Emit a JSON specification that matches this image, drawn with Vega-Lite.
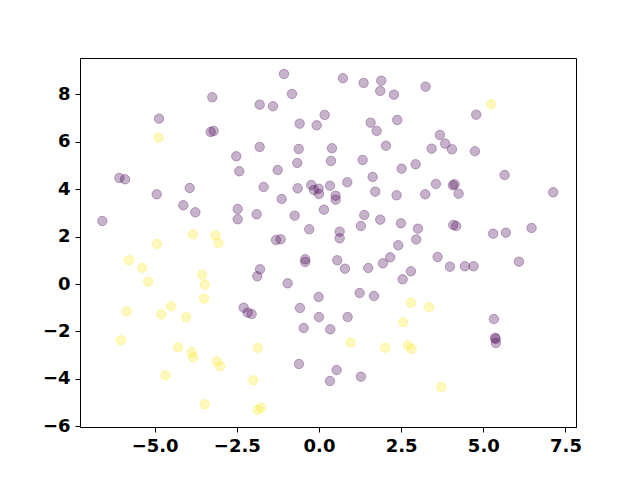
{
  "$schema": "https://vega.github.io/schema/vega-lite/v6.json",
  "width": 496,
  "height": 369,
  "autosize": {"type": "none"},
  "padding": {"left": 80, "top": 58, "right": 64, "bottom": 53},
  "background": "white",
  "config": {
    "view": {"stroke": "black", "strokeWidth": 1},
    "axis": {
      "labelFont": "DejaVu Sans",
      "labelFontWeight": "bold",
      "labelFontSize": 18,
      "labelColor": "black",
      "domainColor": "black",
      "tickColor": "black",
      "tickSize": 5,
      "grid": false,
      "title": null,
      "labelPadding": 5
    }
  },
  "data": {
    "values": [
      {"x": -3.245, "y": 7.874, "c": 0}, {"x": -4.866, "y": 6.972, "c": 0}, {"x": -3.294, "y": 6.411, "c": 0}, {"x": -3.203, "y": 6.453, "c": 0},
      {"x": -2.515, "y": 5.386, "c": 0}, {"x": -2.424, "y": 4.753, "c": 0}, {"x": -6.074, "y": 4.471, "c": 0}, {"x": -5.9, "y": 4.416, "c": 0},
      {"x": -3.932, "y": 4.049, "c": 0}, {"x": -4.936, "y": 3.783, "c": 0}, {"x": -4.127, "y": 3.319, "c": 0}, {"x": -3.762, "y": 3.024, "c": 0},
      {"x": -2.473, "y": 3.163, "c": 0}, {"x": -2.473, "y": 2.729, "c": 0}, {"x": -6.591, "y": 2.657, "c": 0}, {"x": -1.064, "y": 8.857, "c": 0},
      {"x": 0.73, "y": 8.676, "c": 0}, {"x": 1.359, "y": 8.477, "c": 0}, {"x": 1.895, "y": 8.574, "c": 0}, {"x": 1.864, "y": 8.14, "c": 0},
      {"x": 2.281, "y": 7.984, "c": 0}, {"x": -0.821, "y": 8.014, "c": 0}, {"x": -1.804, "y": 7.562, "c": 0}, {"x": -1.399, "y": 7.495, "c": 0},
      {"x": 0.173, "y": 7.128, "c": 0}, {"x": -0.587, "y": 6.761, "c": 0}, {"x": -0.07, "y": 6.693, "c": 0}, {"x": 1.572, "y": 6.803, "c": 0},
      {"x": 1.755, "y": 6.453, "c": 0}, {"x": 2.381, "y": 6.917, "c": 0}, {"x": -1.804, "y": 5.778, "c": 0}, {"x": -0.617, "y": 5.694, "c": 0},
      {"x": 0.395, "y": 5.723, "c": 0}, {"x": 2.038, "y": 5.833, "c": 0}, {"x": -0.66, "y": 5.103, "c": 0}, {"x": 0.365, "y": 5.188, "c": 0},
      {"x": 1.329, "y": 5.23, "c": 0}, {"x": -1.256, "y": 4.808, "c": 0}, {"x": 2.515, "y": 4.863, "c": 0}, {"x": 2.941, "y": 5.048, "c": 0},
      {"x": 1.633, "y": 4.513, "c": 0}, {"x": -1.682, "y": 4.091, "c": 0}, {"x": -0.648, "y": 4.036, "c": 0}, {"x": -0.234, "y": 4.175, "c": 0},
      {"x": -0.152, "y": 3.965, "c": 0}, {"x": -0.009, "y": 4.019, "c": 0}, {"x": 0.0, "y": 3.796, "c": 0}, {"x": 0.335, "y": 4.146, "c": 0},
      {"x": 0.861, "y": 4.289, "c": 0}, {"x": 0.508, "y": 3.724, "c": 0}, {"x": 0.508, "y": 3.555, "c": 0}, {"x": 1.712, "y": 3.893, "c": 0},
      {"x": 2.363, "y": 3.741, "c": 0}, {"x": -1.134, "y": 3.585, "c": 0}, {"x": -1.895, "y": 2.94, "c": 0}, {"x": -0.739, "y": 2.881, "c": 0},
      {"x": 0.152, "y": 3.134, "c": 0}, {"x": 1.378, "y": 2.91, "c": 0}, {"x": 1.864, "y": 2.712, "c": 0}, {"x": 2.494, "y": 2.56, "c": 0},
      {"x": 1.277, "y": 2.446, "c": 0}, {"x": -0.295, "y": 2.307, "c": 0}, {"x": 0.63, "y": 2.206, "c": 0}, {"x": 0.63, "y": 1.927, "c": 0},
      {"x": -1.308, "y": 1.856, "c": 0}, {"x": -1.165, "y": 1.885, "c": 0}, {"x": 2.412, "y": 1.632, "c": 0}, {"x": 3.011, "y": 2.332, "c": 0},
      {"x": 3.245, "y": 8.321, "c": 0}, {"x": 4.784, "y": 7.14, "c": 0}, {"x": 3.68, "y": 6.284, "c": 0}, {"x": 3.841, "y": 5.917, "c": 0},
      {"x": 3.428, "y": 5.706, "c": 0}, {"x": 4.045, "y": 5.681, "c": 0}, {"x": 4.745, "y": 5.597, "c": 0}, {"x": 5.648, "y": 4.597, "c": 0},
      {"x": 3.558, "y": 4.218, "c": 0}, {"x": 4.075, "y": 4.163, "c": 0}, {"x": 4.127, "y": 4.205, "c": 0}, {"x": 3.233, "y": 3.783, "c": 0},
      {"x": 4.249, "y": 3.809, "c": 0}, {"x": 7.126, "y": 3.868, "c": 0}, {"x": 4.085, "y": 2.488, "c": 0}, {"x": 4.176, "y": 2.446, "c": 0},
      {"x": 5.301, "y": 2.121, "c": 0}, {"x": 5.687, "y": 2.164, "c": 0}, {"x": 6.469, "y": 2.362, "c": 0}, {"x": 2.959, "y": 1.877, "c": 0},
      {"x": -2.29, "y": -1.0, "c": 0}, {"x": -2.168, "y": -1.21, "c": 0}, {"x": -2.047, "y": -1.265, "c": 0}, {"x": -0.417, "y": 1.042, "c": 0},
      {"x": -0.417, "y": 0.928, "c": 0}, {"x": -1.794, "y": 0.62, "c": 0}, {"x": -1.877, "y": 0.325, "c": 0}, {"x": -0.952, "y": 0.03, "c": 0},
      {"x": 0.557, "y": 1.0, "c": 0}, {"x": 0.791, "y": 0.645, "c": 0}, {"x": 1.499, "y": 0.675, "c": 0}, {"x": 1.946, "y": 0.873, "c": 0},
      {"x": 2.168, "y": 1.126, "c": 0}, {"x": 2.798, "y": 0.536, "c": 0}, {"x": 2.546, "y": 0.198, "c": 0}, {"x": 1.238, "y": -0.38, "c": 0},
      {"x": 1.673, "y": -0.506, "c": 0}, {"x": -0.009, "y": -0.548, "c": 0}, {"x": -0.578, "y": -1.012, "c": 0}, {"x": 0.0, "y": -1.392, "c": 0},
      {"x": 0.873, "y": -1.392, "c": 0}, {"x": -0.465, "y": -1.856, "c": 0}, {"x": 0.344, "y": -1.911, "c": 0}, {"x": -0.608, "y": -3.374, "c": 0},
      {"x": 0.538, "y": -3.627, "c": 0}, {"x": 0.335, "y": -4.091, "c": 0}, {"x": 1.277, "y": -3.91, "c": 0}, {"x": 3.61, "y": 1.139, "c": 0},
      {"x": 3.984, "y": 0.73, "c": 0}, {"x": 4.44, "y": 0.747, "c": 0}, {"x": 4.705, "y": 0.747, "c": 0}, {"x": 6.083, "y": 0.941, "c": 0},
      {"x": 5.322, "y": -1.476, "c": 0}, {"x": 5.362, "y": -2.265, "c": 0}, {"x": 5.374, "y": -2.32, "c": 0}, {"x": 5.383, "y": -2.488, "c": 0},
      {"x": -4.875, "y": 6.17, "c": 1}, {"x": -3.832, "y": 2.096, "c": 1}, {"x": -3.154, "y": 2.054, "c": 1}, {"x": -3.057, "y": 1.729, "c": 1},
      {"x": -4.927, "y": 1.687, "c": 1}, {"x": 5.24, "y": 7.579, "c": 1}, {"x": -5.779, "y": 1.0, "c": 1}, {"x": -5.374, "y": 0.687, "c": 1},
      {"x": -5.192, "y": 0.097, "c": 1}, {"x": -3.558, "y": 0.392, "c": 1}, {"x": -3.476, "y": -0.03, "c": 1}, {"x": -3.498, "y": -0.62, "c": 1},
      {"x": -5.849, "y": -1.151, "c": 1}, {"x": -4.501, "y": -0.941, "c": 1}, {"x": -4.796, "y": -1.278, "c": 1}, {"x": -4.045, "y": -1.404, "c": 1},
      {"x": -6.022, "y": -2.375, "c": 1}, {"x": -4.288, "y": -2.67, "c": 1}, {"x": -3.872, "y": -2.881, "c": 1}, {"x": -3.823, "y": -3.092, "c": 1},
      {"x": -3.111, "y": -3.26, "c": 1}, {"x": -3.002, "y": -3.471, "c": 1}, {"x": -4.675, "y": -3.851, "c": 1}, {"x": -3.476, "y": -5.074, "c": 1},
      {"x": -1.998, "y": -4.062, "c": 1}, {"x": -1.864, "y": -2.687, "c": 1}, {"x": -1.864, "y": -5.314, "c": 1}, {"x": -1.764, "y": -5.217, "c": 1},
      {"x": 0.964, "y": -2.476, "c": 1}, {"x": 2.016, "y": -2.687, "c": 1}, {"x": 2.564, "y": -1.615, "c": 1}, {"x": 2.798, "y": -0.789, "c": 1},
      {"x": 2.707, "y": -2.585, "c": 1}, {"x": 2.819, "y": -2.741, "c": 1}, {"x": 3.355, "y": -0.97, "c": 1}, {"x": 3.72, "y": -4.344, "c": 1}
    ]
  },
  "mark": {"type": "point", "filled": false, "shape": "circle", "size": 90, "fillOpacity": 0.3, "strokeOpacity": 0.3, "strokeWidth": 1},
  "encoding": {
    "x": {
      "field": "x", "type": "quantitative",
      "scale": {"domain": [-7.27, 7.82], "nice": false, "zero": false},
      "axis": {"values": [-5, -2.5, 0, 2.5, 5, 7.5], "format": ".1f"}
    },
    "y": {
      "field": "y", "type": "quantitative",
      "scale": {"domain": [-6.03, 9.53], "nice": false, "zero": false},
      "axis": {"values": [-6, -4, -2, 0, 2, 4, 6, 8], "format": "d"}
    },
    "fill": {"field": "c", "type": "nominal", "scale": {"domain": [0, 1], "range": ["#440154", "#fde725"]}, "legend": null},
    "stroke": {"field": "c", "type": "nominal", "scale": {"domain": [0, 1], "range": ["#440154", "#fde725"]}, "legend": null}
  }
}
